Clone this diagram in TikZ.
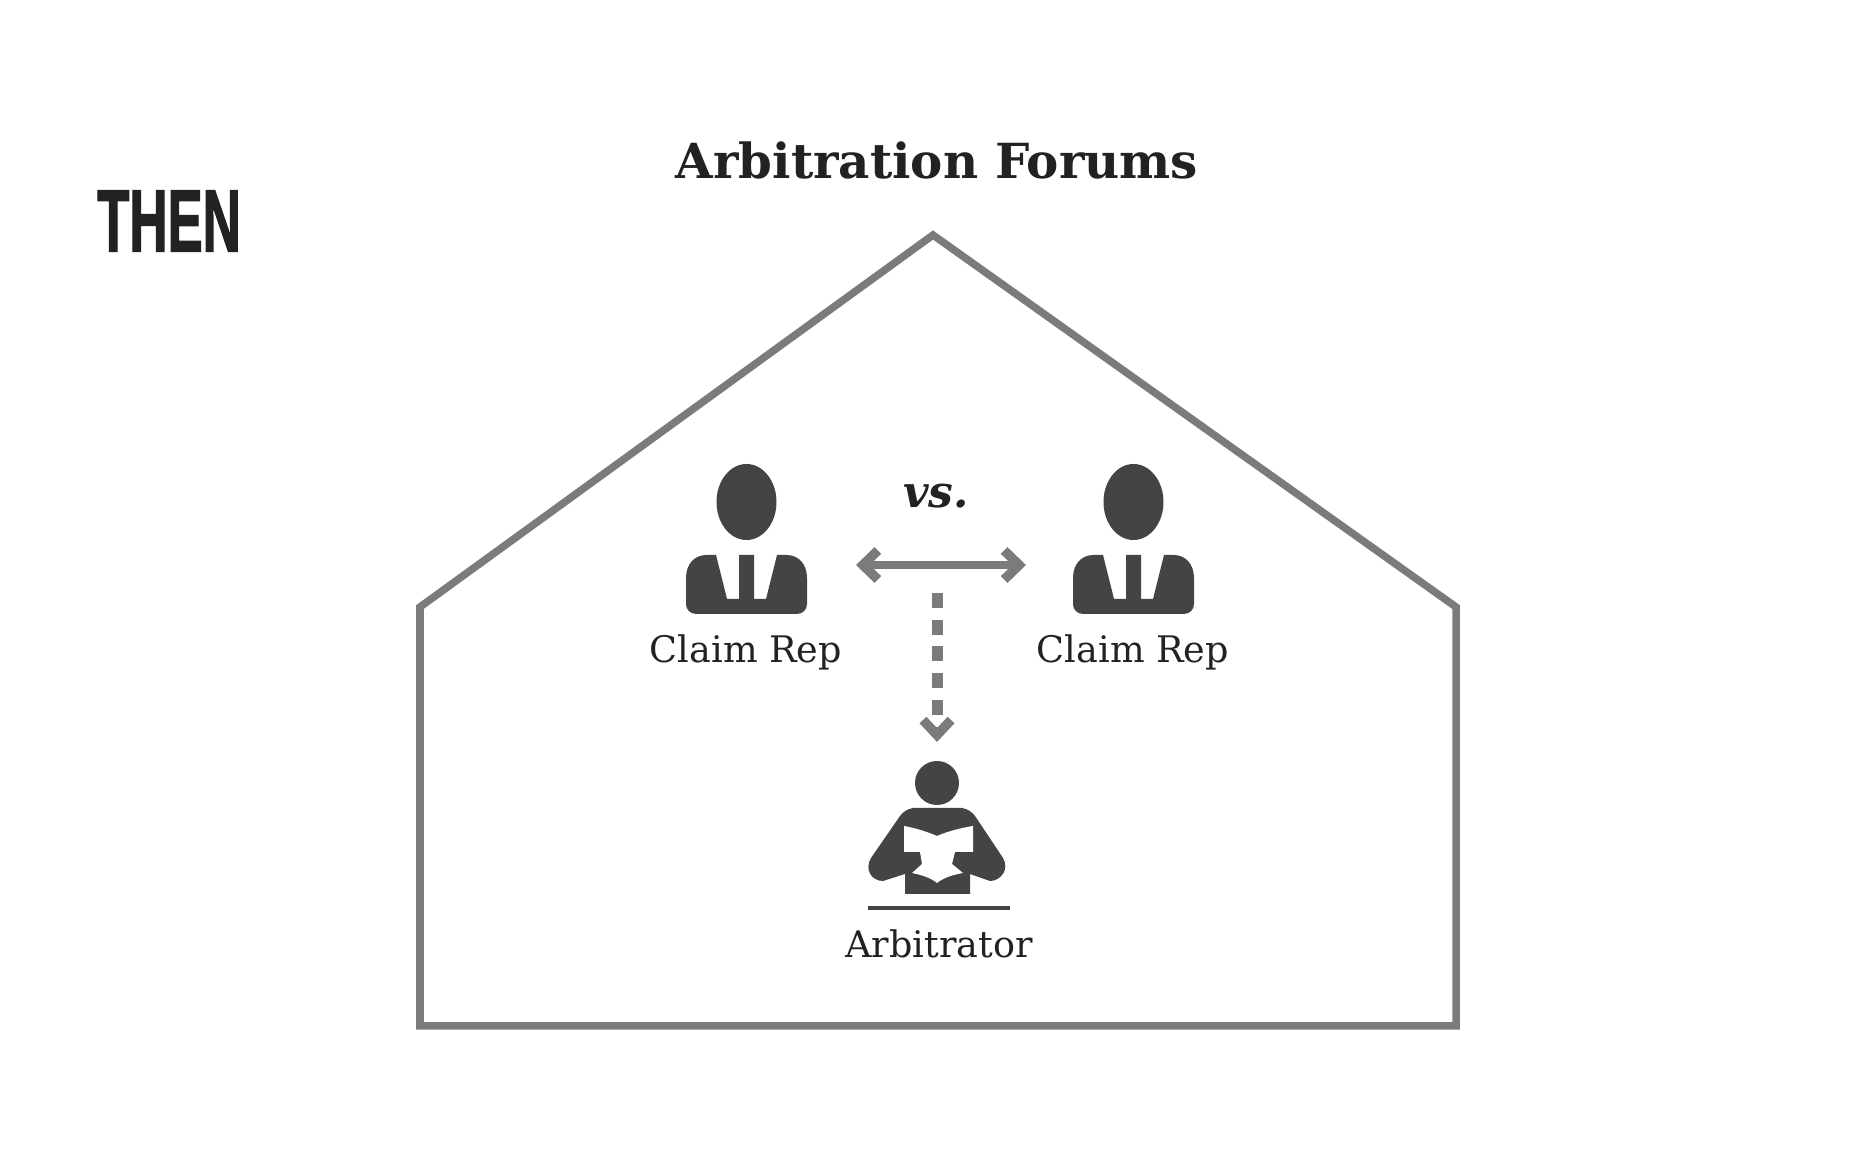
\documentclass[tikz,border=0pt]{standalone}
\usepackage{fontspec}
\setmainfont{DejaVu Serif}
\newfontfamily\thenfont[BoldFeatures={FakeBold=2}]{Liberation Sans}
\usetikzlibrary{arrows.meta}
\definecolor{iconcolor}{HTML}{444444}
\definecolor{housecolor}{HTML}{7B7B7B}
\definecolor{textcolor}{HTML}{222222}
\tikzset{
	label/.style={text=textcolor, inner sep=0pt, font=\fontsize{10.4pt}{13pt}\selectfont},
	link/.style={draw=housecolor, line width=0.8mm}
}
\def\claimrep(#1){
	\begin{scope}[shift={(#1)}]
		\fill[iconcolor] (0, -148) ellipse (30 and 38);
		\fill[iconcolor] (-60.5, -72) .. controls (-60.5, -86) and (-52, -95) .. (-40, -95) -- (-30.5, -95) -- (-19.5, -51) -- (-7.5, -51) -- (-7.5, -95) -- (7.5, -95) -- (7.5, -51) -- (19.5, -51) -- (30.5, -95) -- (40, -95) .. controls (52, -95) and (60.5, -86) .. (60.5, -72) -- (60.5, -46) .. controls (60.5, -40) and (56, -36) .. (50, -36) -- (-50, -36) .. controls (-56, -36) and (-60.5, -40) .. (-60.5, -46) -- cycle;
	\end{scope}
}

\begin{document}
\begin{tikzpicture}[x=0.01cm, y=-0.01cm]
		%%%%% START %%%%%
		\useasboundingbox[fill=white] (0, 0) rectangle (1856, 1152);

		\node[text=textcolor, inner sep=0pt, xscale=0.6, font=\thenfont\bfseries\fontsize{25pt}{25pt}\selectfont] (then) at (169, 221) {THEN};
		\node[text=textcolor, inner sep=0pt, font=\bfseries\fontsize{13.75pt}{17pt}\selectfont] (title) at (937, 160) {Arbitration Forums};

		\draw[housecolor, line width=0.75mm, line join=miter] (933, 235) -- (420, 607) -- (420, 1026) -- (1456, 1026) -- (1456, 607) -- cycle;

		\claimrep(746.5, 650)
		\claimrep(1133.5, 650)
		\node[label] (repleft) at (746, 652) {Claim Rep};
		\node[label] (repright) at (1133, 652) {Claim Rep};
		\node[label, font=\bfseries\itshape\fontsize{12.5pt}{14pt}\selectfont] (versus) at (936, 496) {vs.};
		\node[label] (arbitrator) at (939, 944) {Arbitrator};

		\coordinate (arrowleft) at (856, 565);
		\coordinate (arrowright) at (1026, 565);
		\coordinate (dashtop) at (937, 593);
		\coordinate (dashend) at (937, 742);
		\draw[link, {Straight Barb[length=1.5mm, width=2.9mm, line width=0.95mm]}-{Straight Barb[length=1.5mm, width=2.9mm, line width=0.95mm]}] (arrowleft) -- (arrowright);
		\draw[draw=housecolor, line width=1.1mm, dash pattern=on 1.5mm off 1.17mm, -{Straight Barb[length=1.5mm, width=2.8mm, line width=0.95mm]}] (dashtop) -- (dashend);

		\fill[iconcolor] (937, 783) circle (22);
		\fill[iconcolor] (913, 808) -- (962, 808) .. controls (968, 809) and (972, 812) .. (975, 816) -- (1003, 858) .. controls (1010, 870) and (1000, 881) .. (990, 881) -- (970, 874) -- (970, 894) -- (905, 894) -- (905, 874) -- (883, 881) .. controls (872, 881) and (864, 870) .. (871, 858) -- (900, 816) .. controls (903, 812) and (907, 809) .. (913, 808) -- cycle;
		\fill[white] (904, 826) .. controls (915, 828) and (928, 832) .. (937, 836) .. controls (946, 832) and (960, 828) .. (973, 826) -- (973, 852) -- (955, 852) -- (952, 864) -- (963, 873) .. controls (952, 875) and (943, 878) .. (937, 883) .. controls (931, 878) and (922, 875) .. (912, 873) -- (922, 864) -- (920, 852) -- (904, 852) -- cycle;
		\draw[iconcolor, line width=0.4mm] (868, 908) -- (1010, 908);
		%%%%% END %%%%%
	\end{tikzpicture}
\end{document}
